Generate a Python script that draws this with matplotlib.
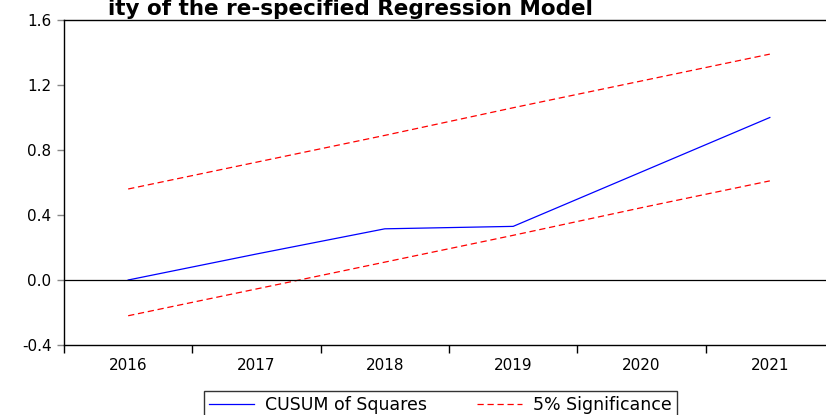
import matplotlib
matplotlib.use("Agg")
import matplotlib.pyplot as plt

years = ["2016", "2017", "2018", "2019", "2020", "2021"]
cusum_sq = [0.00, 0.16, 0.315, 0.33, 0.665, 1.00]
upper_5 = [0.56, 0.725, 0.89, 1.06, 1.225, 1.39]
lower_5 = [-0.22, -0.055, 0.11, 0.275, 0.445, 0.61]
yticks = [-0.4, 0.0, 0.4, 0.8, 1.2, 1.6]
ytick_labels = ["-0.4", "0.0", "0.4", "0.8", "1.2", "1.6"]
title = "ity of the re-specified Regression Model"

W, H = 826, 415
fig = plt.figure(figsize=(W / 100, H / 100), dpi=100)
plt.rcParams['font.family'] = ['DejaVu Sans']

left = 64 / W
bottom = 1 - 345 / H
height = 325 / H
width = 770 / W
ax = fig.add_axes([left, bottom, width, height])

x = list(range(len(years)))
l1, = ax.plot(x, cusum_sq, color="blue", lw=0.9)
l2, = ax.plot(x, upper_5, color="red", lw=0.9, ls=(0, (5, 3)))
ax.plot(x, lower_5, color="red", lw=0.9, ls=(0, (5, 3)))
ax.axhline(0, color="black", lw=0.9)

ax.set_xlim(-0.5, len(years) - 0.5)
ax.set_ylim(-0.4, 1.6)
ax.set_yticks(yticks)
ax.set_yticklabels(ytick_labels, fontsize=11)
ax.set_xticks([i - 0.5 for i in range(len(years) + 1)])
ax.set_xticklabels([])
ax.set_xticks(x, minor=True)
ax.set_xticklabels(years, minor=True, fontsize=11)
ax.tick_params(axis="x", which="major", direction="out", length=6, width=1, color="black")
ax.tick_params(axis="x", which="minor", length=0, pad=9)
ax.tick_params(axis="y", direction="out", length=5, width=1, color="#888888", pad=4)
ax.spines["right"].set_visible(False)
for s in ["top", "left", "bottom"]:
    ax.spines[s].set_linewidth(1)
    ax.spines[s].set_color("black")

fig.text(593 / W, 1 - 15 / H, title, ha="right", va="baseline",
         fontsize=15.5, fontweight="bold")

leg = fig.legend([l1, l2], ["CUSUM of Squares", "5% Significance"],
                 loc="upper left", bbox_to_anchor=(204 / W, 1 - 391 / H),
                 ncol=2, frameon=True, fancybox=False, fontsize=12.5,
                 handlelength=2.6, columnspacing=2.9, borderpad=0.3,
                 handletextpad=0.6, borderaxespad=0)
leg.get_frame().set_edgecolor("black")
leg.get_frame().set_linewidth(1)

fig.savefig("out.png", dpi=100)
